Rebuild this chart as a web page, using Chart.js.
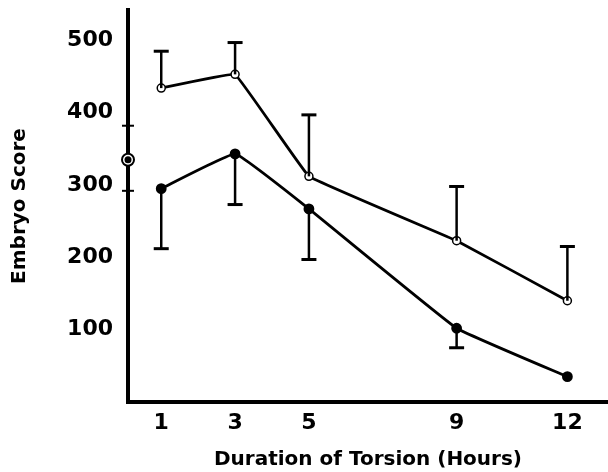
<!DOCTYPE html>
<html>
<head>
<meta charset="utf-8">
<script src="https://cdn.jsdelivr.net/npm/chart.js@4/dist/chart.umd.min.js"></script>
<style>
  html, body { margin: 0; padding: 0; background: #fff; }
  #wrap { width: 608px; height: 472px; }
</style>
</head>
<body>
<div id="wrap"><canvas id="mycanvas" width="608" height="472"></canvas></div>
<script>
// hours of torsion
var hours = [1, 3, 5, 9, 12];
var xTicks = [1, 3, 5, 9, 12];

// open circles (upper curve) and their error bar tops
var openScore = [434, 453, 312, 223, 140];
var openErrTop = [485, 497, 397, 298, 215];

// filled circles (lower curve) and their error bar bottoms
var filledScore = [295, 343, 267, 102, 35];
var filledErrLow = [212, 273, 197, 75, null];

// y tick labels
var yTicks = [100, 200, 300, 400, 500];

// stray marks on the y axis of the original figure
var axisTicks = [382, 292];
var axisCircle = 335;

var tickFont = { family: "'DejaVu Sans', sans-serif", weight: 'bold', size: 22 };
var titleFont = { family: "'DejaVu Sans', sans-serif", weight: 'bold', size: 20 };

var errorBars = {
	id: 'errorBars',
	afterDatasetsDraw: function(chart) {
		var ctx = chart.ctx;
		var xs = chart.scales.x, ys = chart.scales.y;
		ctx.save();
		ctx.strokeStyle = '#000';
		function bar(x, v0, v1) {
			if (v1 === null) return;
			var px = xs.getPixelForValue(x);
			var p0 = ys.getPixelForValue(v0);
			var p1 = ys.getPixelForValue(v1);
			ctx.lineWidth = 2.5;
			ctx.beginPath();
			ctx.moveTo(px, p0);
			ctx.lineTo(px, p1);
			ctx.stroke();
			ctx.lineWidth = 3;
			ctx.beginPath();
			ctx.moveTo(px - 7.5, p1);
			ctx.lineTo(px + 7.5, p1);
			ctx.stroke();
		}
		for (var i = 0; i < hours.length; i++) {
			bar(hours[i], openScore[i], openErrTop[i]);
			bar(hours[i], filledScore[i], filledErrLow[i]);
		}
		// axis marks
		var ax = xs.left;
		ctx.lineWidth = 2;
		for (var j = 0; j < axisTicks.length; j++) {
			var ty = ys.getPixelForValue(axisTicks[j]);
			ctx.beginPath();
			ctx.moveTo(ax - 6, ty);
			ctx.lineTo(ax + 6, ty);
			ctx.stroke();
		}
		var cy = ys.getPixelForValue(axisCircle);
		ctx.beginPath();
		ctx.arc(ax, cy, 6, 0, Math.PI * 2);
		ctx.fillStyle = '#fff';
		ctx.fill();
		ctx.stroke();
		ctx.beginPath();
		ctx.arc(ax, cy, 3.5, 0, Math.PI * 2);
		ctx.fillStyle = '#000';
		ctx.fill();
		ctx.restore();
	}
};

var chartdata = {
	datasets: [
		{
			label: 'open',
			data: hours.map(function(h, i) { return { x: h, y: openScore[i] }; }),
			borderColor: '#000',
			borderWidth: 2.8,
			backgroundColor: '#fff',
			pointBackgroundColor: '#fff',
			pointBorderColor: '#000',
			pointBorderWidth: 1.5,
			pointRadius: 4,
			tension: 0.05
		},
		{
			label: 'filled',
			data: hours.map(function(h, i) { return { x: h, y: filledScore[i] }; }),
			borderColor: '#000',
			borderWidth: 2.8,
			backgroundColor: '#000',
			pointBackgroundColor: '#000',
			pointBorderColor: '#000',
			pointRadius: 4,
			tension: 0.08
		}
	]
};

new Chart(document.getElementById('mycanvas'), {
	type: 'line',
	data: chartdata,
	plugins: [errorBars],
	options: {
		responsive: false,
		animation: false,
		layout: { autoPadding: false, padding: { top: 10, right: 0, left: 0, bottom: 0 } },
		plugins: { legend: { display: false }, tooltip: { enabled: false } },
		scales: {
			x: {
				type: 'linear',
				min: 0.1,
				max: 13.1,
				afterBuildTicks: function(axis) {
					axis.ticks = xTicks.map(function(v) { return { value: v }; });
				},
				afterFit: function(axis) {
					axis.height = 70;
					axis.paddingLeft = 0;
					axis.paddingRight = 0;
				},
				grid: { display: false, drawTicks: false },
				border: { display: true, color: '#000', width: 4 },
				ticks: { color: '#000', font: tickFont, padding: 8, autoSkip: false, maxRotation: 0 },
				title: {
					display: true,
					text: 'Duration of Torsion (Hours)',
					color: '#000',
					font: titleFont,
					padding: { top: 8, bottom: 0 }
				}
			},
			y: {
				min: 0,
				max: 542,
				afterBuildTicks: function(axis) {
					axis.ticks = yTicks.map(function(v) { return { value: v }; });
				},
				afterFit: function(axis) {
					axis.width = 128;
					axis.paddingTop = 0;
					axis.paddingBottom = 0;
				},
				grid: { display: false, drawTicks: false },
				border: { display: true, color: '#000', width: 4 },
				ticks: { color: '#000', font: tickFont, padding: 15 },
				title: {
					display: true,
					text: 'Embryo Score',
					color: '#000',
					font: titleFont,
					padding: { top: 8, bottom: 10 }
				}
			}
		}
	}
});
</script>
</body>
</html>
